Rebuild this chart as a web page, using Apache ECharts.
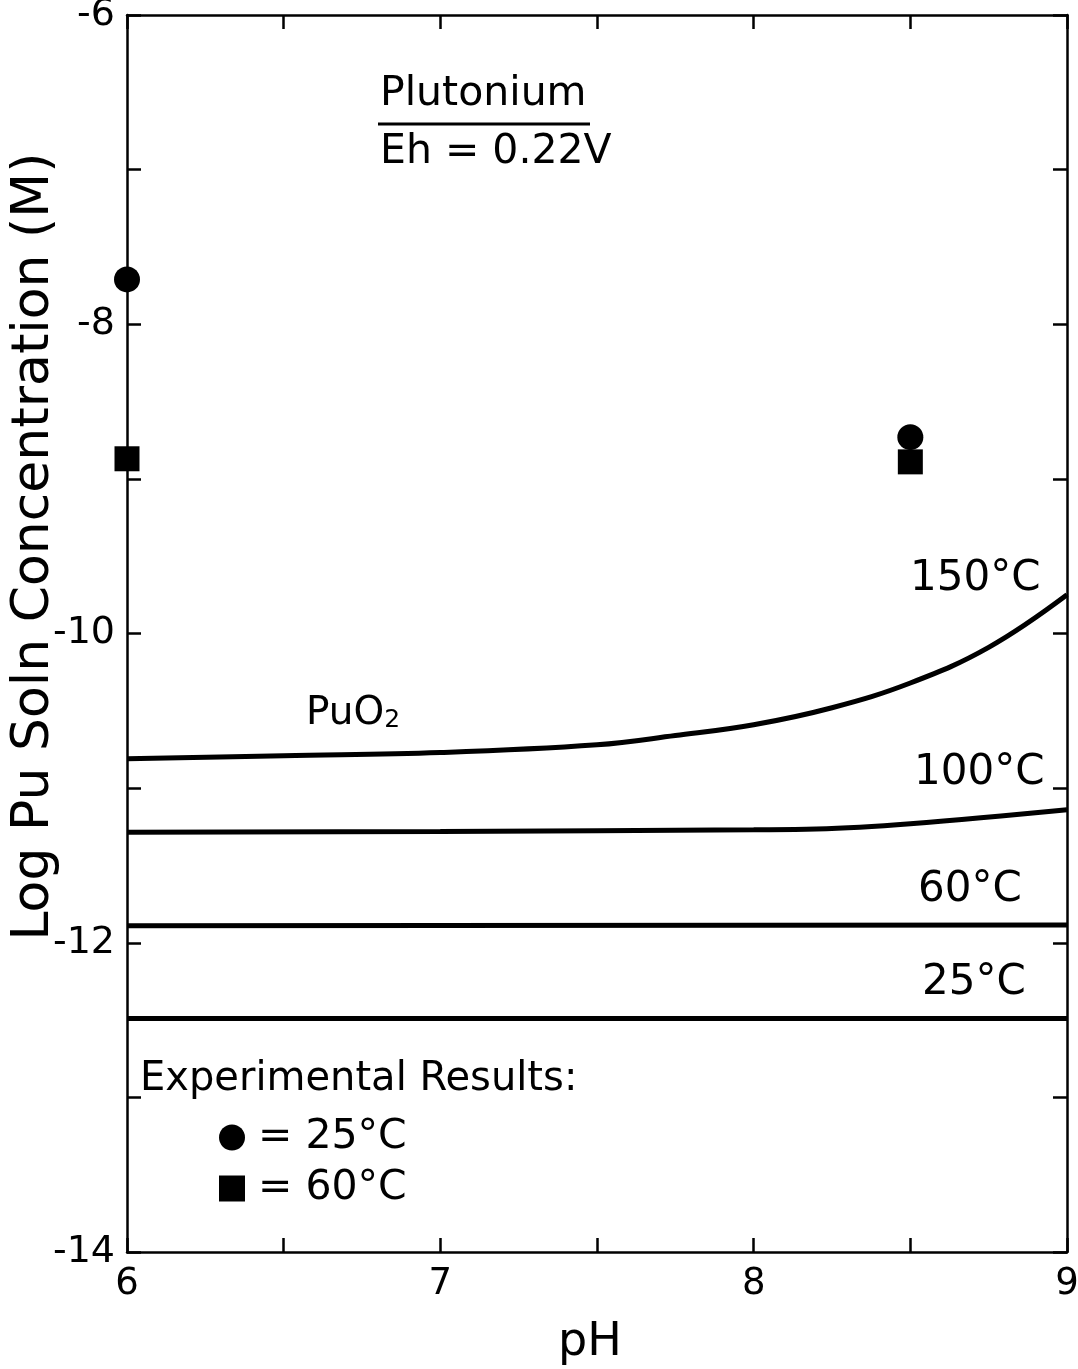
<!DOCTYPE html>
<html><head><meta charset="utf-8">
<script src="https://cdn.jsdelivr.net/npm/echarts@6/dist/echarts.min.js"></script>
<style>html,body{margin:0;padding:0;background:#fff}#c{width:1078px;height:1369px}</style>
</head><body><div id="c"></div>
<script>
const FONT = 'DejaVu Sans';
// curve data: [pH, log concentration]
const curve150 = [[6,-10.81],[6.5,-10.79],[7,-10.77],[7.5,-10.72],[7.75,-10.66],[8,-10.59],[8.25,-10.48],[8.5,-10.32],[8.75,-10.09],[9,-9.75]];
const curve100 = [[6,-11.285],[7,-11.28],[8,-11.27],[8.2,-11.265],[8.5,-11.23],[9,-11.14]];
const curve60 = [[6,-11.89],[9,-11.885]];
const curve25 = [[6,-12.49],[9,-12.49]];
const exp25 = [[6,-7.71],[8.5,-8.73]];
const exp60 = [[6,-8.87],[8.5,-8.89]];
const xTickLabels = [6,7,8,9];
const yTickLabels = [-6,-8,-10,-12,-14];

const chart = echarts.init(document.getElementById('c'));
const lineStyle = {color:'#000', width:5, opacity:1};
function lineSeries(name, data){
  return {name, type:'line', data, smooth:0.4, showSymbol:false, symbol:'none', lineStyle, silent:true, z:3};
}
const axisCommon = {
  axisLine:{show:true, lineStyle:{color:'#000', width:2.5}},
  axisTick:{show:true, inside:true, length:14, lineStyle:{color:'#000', width:2.5}},
  splitLine:{show:false}
};
chart.setOption({
  animation:false,
  backgroundColor:'#fff',
  textStyle:{fontFamily:FONT},
  grid:{left:127, right:11, top:15, bottom:117, containLabel:false, outerBoundsMode:'none'},
  xAxis:[
    Object.assign({type:'value', min:6, max:9, interval:0.5, position:'bottom',
      name:'pH', nameLocation:'middle', nameGap:68, nameMoveOverlap:false,
      nameTextStyle:{fontSize:46, color:'#000', fontFamily:FONT, padding:[0,14,0,0]},
      axisLabel:{fontSize:37, color:'#000', margin:14, fontFamily:FONT,
        formatter:v=> xTickLabels.includes(v) ? String(v) : ''}}, axisCommon),
    Object.assign({type:'value', min:6, max:9, interval:0.5, position:'top', axisLabel:{show:false}}, axisCommon)
  ],
  yAxis:[
    Object.assign({type:'value', min:-14, max:-6, interval:1, position:'left',
      name:'Log Pu Soln Concentration (M)', nameLocation:'middle', nameGap:67, nameRotate:90, nameMoveOverlap:false,
      nameTextStyle:{fontSize:52, color:'#000', fontFamily:FONT, padding:[0,0,0,174]},
      axisLabel:{fontSize:38, color:'#000', margin:12, fontFamily:FONT,
        formatter:v=> yTickLabels.includes(v) ? String(v) : ''}}, axisCommon),
    Object.assign({type:'value', min:-14, max:-6, interval:1, position:'right', axisLabel:{show:false}}, axisCommon)
  ],
  legend:{
    show:true, orient:'vertical', left:214, top:1112, itemGap:10,
    itemWidth:26, itemHeight:26,
    textStyle:{fontSize:41, color:'#000', fontFamily:FONT, padding:[0,0,0,8]},
    formatter:n=>'= '+n,
    data:[{name:'25°C', icon:'circle'},{name:'60°C', icon:'rect'}],
    selectedMode:false
  },
  series:[
    lineSeries('150°C', curve150),
    lineSeries('100°C', curve100),
    lineSeries('60°C line', curve60),
    lineSeries('25°C line', curve25),
    {name:'25°C', type:'scatter', data:exp25, symbol:'circle', symbolSize:26, itemStyle:{color:'#000', opacity:1}, z:5},
    {name:'60°C', type:'scatter', data:exp60, symbol:'rect', symbolSize:25, itemStyle:{color:'#000', opacity:1}, z:4}
  ],
  graphic:[
    {type:'text', left:380, top:74, style:{text:'Plutonium', fontSize:41, fill:'#000', fontFamily:FONT}},
    {type:'line', shape:{x1:378, y1:124, x2:590, y2:124}, style:{stroke:'#000', lineWidth:3}},
    {type:'text', left:380, top:132, style:{text:'Eh = 0.22V', fontSize:41, fill:'#000', fontFamily:FONT}},
    {type:'text', left:910, top:558, style:{text:'150°C', fontSize:42, fill:'#000', fontFamily:FONT}},
    {type:'text', left:914, top:752, style:{text:'100°C', fontSize:42, fill:'#000', fontFamily:FONT}},
    {type:'text', left:918, top:869, style:{text:'60°C', fontSize:42, fill:'#000', fontFamily:FONT}},
    {type:'text', left:922, top:962, style:{text:'25°C', fontSize:42, fill:'#000', fontFamily:FONT}},
    {type:'text', left:306, top:694, style:{rich:{a:{fontSize:39, fill:'#000', fontFamily:FONT}, s:{fontSize:25, fill:'#000', fontFamily:FONT, verticalAlign:'bottom', padding:[14,0,0,0]}}, text:'{a|PuO}{s|2}'}},
    {type:'text', left:140, top:1060, style:{text:'Experimental Results:', fontSize:40, fill:'#000', fontFamily:FONT}}
  ]
});
</script></body></html>
